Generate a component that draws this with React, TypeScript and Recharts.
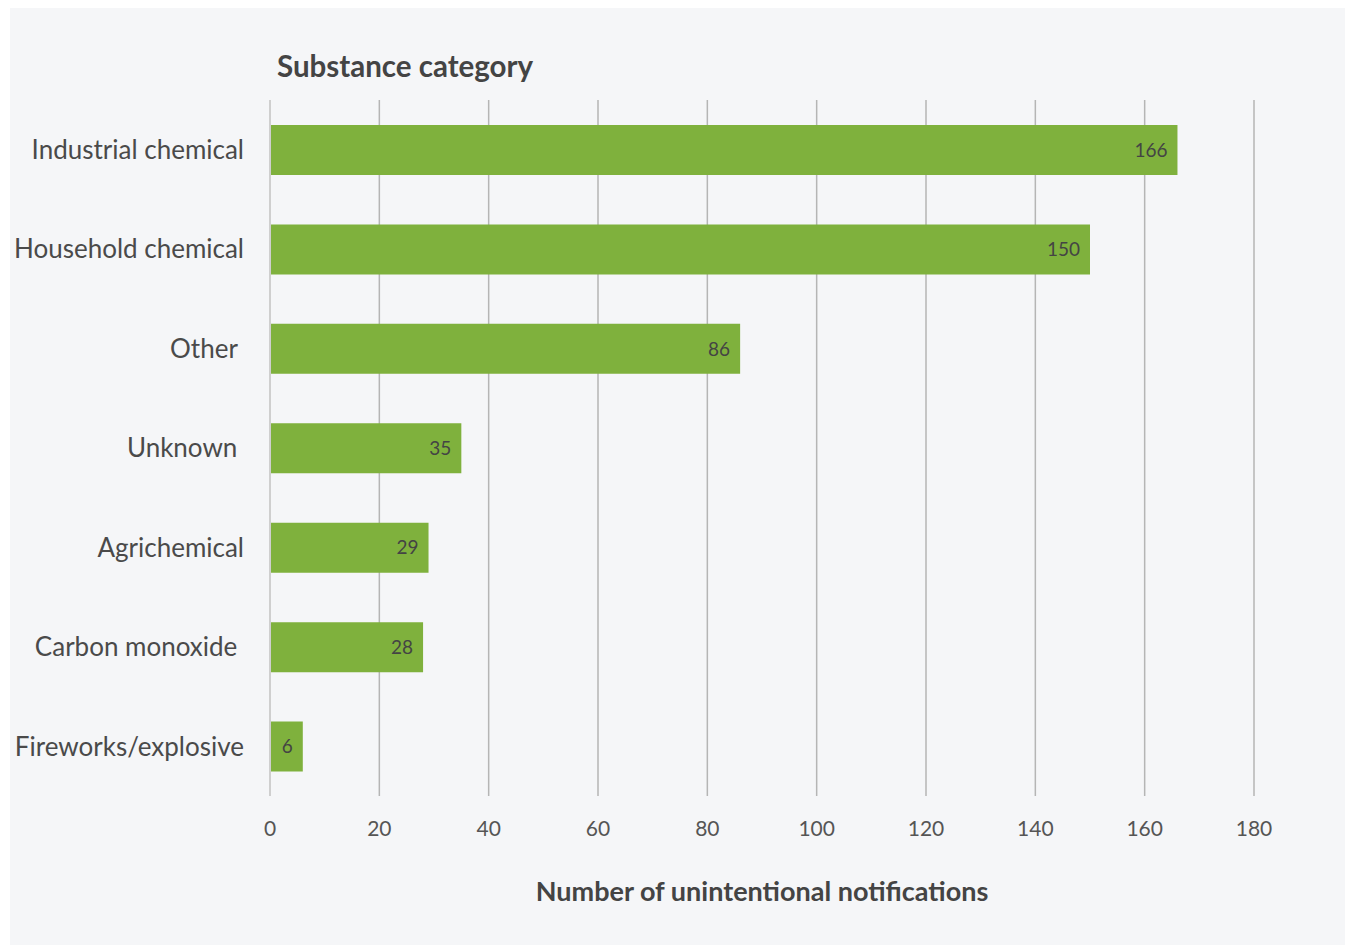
import React from "react";
import { BarChart, Bar, XAxis, YAxis, CartesianGrid, LabelList } from "recharts";

const categories = [
  "Industrial chemical",
  "Household chemical",
  "Other\u00a0",
  "Unknown\u00a0",
  "Agrichemical",
  "Carbon monoxide\u00a0",
  "Fireworks/explosive",
];
const notifications = [166, 150, 86, 35, 29, 28, 6];
const xTicks = [0, 20, 40, 60, 80, 100, 120, 140, 160, 180];

const data = categories.map((name, i) => ({ name, value: notifications[i] }));

const FONT = "Lato, 'Open Sans', sans-serif";

export default function App() {
  return (
    <div style={{ position: "absolute", left: 10, top: 8, width: 1335, height: 937, background: "#f5f6f8", fontFamily: FONT }}>
      <style>{`body { margin: 0; overflow: hidden; }`}</style>
      <div style={{ position: "absolute", left: 267, top: 40, fontSize: 29.5, fontWeight: 700, color: "#444" }}>
        Substance category
      </div>
      <BarChart width={1335} height={937} data={data} layout="vertical" margin={{ top: 92, right: 91, left: 0, bottom: 39 }}>
        <CartesianGrid horizontal={false} stroke="#b5b5b5" strokeWidth={1.5} />
        <XAxis
          type="number"
          domain={[0, 180]}
          ticks={xTicks}
          axisLine={false}
          tickLine={false}
          tickMargin={19}
          height={110}
          tick={{ fill: "#555", fontSize: 21, fontFamily: FONT }}
          label={{ value: "Number of unintentional notifications", position: "insideBottom", offset: 5, fill: "#444", fontSize: 27, fontWeight: 700, fontFamily: FONT }}
        />
        <YAxis
          type="category"
          dataKey="name"
          width={260}
          axisLine={{ stroke: "#cfcfcf", strokeWidth: 2 }}
          tickLine={false}
          tickMargin={20}
          tick={{ fill: "#4a4a4a", fontSize: 26, fontFamily: FONT }}
        />
        <Bar dataKey="value" fill="#7fb13d" barSize={50} isAnimationActive={false}>
          <LabelList dataKey="value" position="insideRight" offset={10} fill="#444" fontSize={19} fontFamily={FONT} />
        </Bar>
      </BarChart>
    </div>
  );
}
